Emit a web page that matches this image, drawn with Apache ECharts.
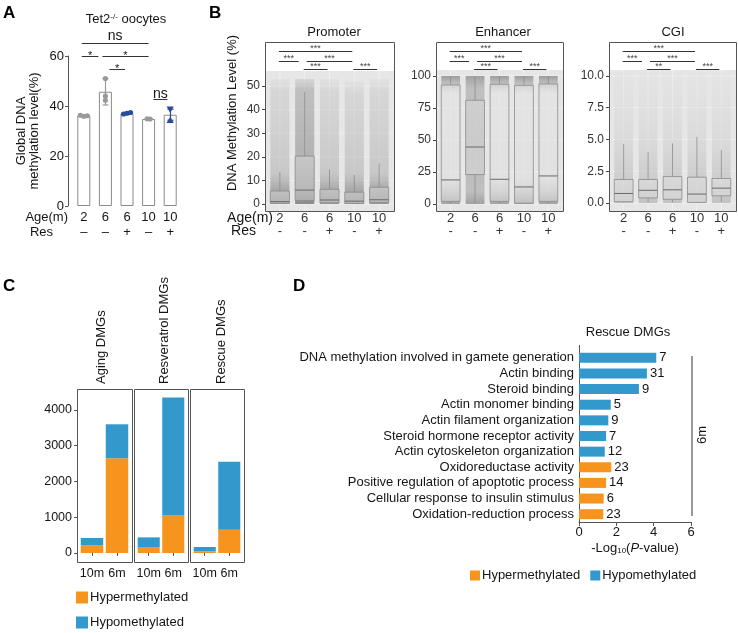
<!DOCTYPE html>
<html><head><meta charset="utf-8">
<script src="https://cdn.jsdelivr.net/npm/echarts@6.0.0/dist/echarts.min.js"></script>
<style>html,body{margin:0;padding:0;background:#fff;}#chart{width:738px;height:633px;}</style>
</head><body><div id="chart"></div>
<script>
// ================= DATA =================
// Panel A
const aAges = ['2', '6', '6', '10', '10'];
const aRes = ['–', '–', '+', '–', '+'];
const aMeans = [36.2, 45.7, 37.1, 34.8, 36.5];
const aSD = [0.3, 5.3, 0.4, 0.2, 2.2];
const aPoints = [[36.3, 35.9, 36.1], [51.0, 44.0, 42.3], [36.8, 37.1, 37.4], [34.9, 34.8], [38.6, 34.4]];
const aSig = [[0, 3, 'ns'], [0, 1, '*'], [1, 3, '*'], [1, 2, '*']];

// Panel B
const bAges = ['2', '6', '6', '10', '10'];
const bRes = ['-', '-', '+', '-', '+'];
const promoterBox = [[0, 0.3, 1.0, 5.5, 13.7], [0, 1.5, 5.9, 20.3, 47.6], [0, 0.5, 1.7, 6.2, 14.7], [0, 0.2, 1.2, 5.0, 12.3], [0, 0.6, 1.8, 7.1, 17.2]];
const enhancerBox = [[0, 2.0, 18.8, 93.0, 100], [0, 23.0, 44.5, 81.0, 100], [0, 2.0, 19.3, 93.5, 100], [0, 0.5, 13.3, 92.7, 100], [0, 2.0, 21.9, 93.8, 100]];
const cgiBox = [[0.03, 0.1, 0.75, 1.85, 4.66], [0.05, 0.4, 1.0, 1.85, 4.0], [0.05, 0.29, 1.04, 2.08, 4.7], [0.03, 0.05, 0.7, 2.03, 5.2], [0.1, 0.57, 1.17, 1.93, 4.17]];
const promoterCloud = [53, 53, 53, 52, 53];
const enhancerCloud = [100, 100, 100, 100, 100];
const cgiCloud = [10.3, 10.3, 10.3, 10.3, 10.3];
const promoterTicks = [0, 10, 20, 30, 40, 50];
const enhancerTicks = [0, 25, 50, 75, 100];
const cgiTicks = [0, 2.5, 5, 7.5, 10];
const promoterSig = [[0, 3, '***', 0], [0, 1, '***', 1], [1, 3, '***', 1], [1, 2, '***', 2], [3, 4, '***', 2]];
const enhancerSig = [[0, 3, '***', 0], [0, 1, '***', 1], [1, 3, '***', 1], [1, 2, '***', 2], [3, 4, '***', 2]];
const cgiSig = [[0, 3, '***', 0], [0, 1, '***', 1], [1, 3, '***', 1], [1, 2, '**', 2], [3, 4, '***', 2]];

// Panel C
const cFacets = ['Aging DMGs', 'Resveratrol DMGs', 'Rescue DMGs'];
const cGroups = ['10m', '6m'];
const cHyper = [[214, 2650], [167, 1050], [47, 651]];
const cHypo = [[205, 950], [270, 3302], [120, 1898]];
const cTicks = [0, 1000, 2000, 3000, 4000];

// Panel D
const dTerms = ['DNA methylation involved in gamete generation', 'Actin binding', 'Steroid binding', 'Actin monomer binding',
  'Actin filament organization', 'Steroid hormone receptor activity', 'Actin cytoskeleton organization',
  'Oxidoreductase activity', 'Positive regulation of apoptotic process', 'Cellular response to insulin stimulus', 'Oxidation-reduction process'];
const dLogP = [4.14, 3.64, 3.21, 1.70, 1.57, 1.45, 1.38, 1.73, 1.45, 1.32, 1.30];
const dCounts = [7, 31, 9, 5, 9, 7, 12, 23, 14, 6, 23];
const dClass = ['Hypomethylated', 'Hypomethylated', 'Hypomethylated', 'Hypomethylated', 'Hypomethylated', 'Hypomethylated', 'Hypomethylated',
  'Hypermethylated', 'Hypermethylated', 'Hypermethylated', 'Hypermethylated'];

// ================= STYLE / LAYOUT =================
const FONT = '"Liberation Sans", Arial, Helvetica, sans-serif';
const INK = '#151515';
const ORANGE = '#F7941D';
const BLUE = '#3399CC';
const NAVY = '#2B4C9B';
const GREY = '#9a9a9a';
const aJitter = [3.5, 0, 3.5, 3, 0];
const aMarker = ['circle', 'circle', 'circle', 'circle', 'triangle'];

function grad(stops) {
  return { type: 'linear', x: 0, y: 0, x2: 0, y2: 1, colorStops: stops.map(s => ({ offset: s[0], color: s[1] })) };
}
const cloudStyle = {
  promoter: (i) => i === 1
    ? grad([[0, 'rgba(175,175,175,0.3)'], [0.08, 'rgba(160,160,160,0.55)'], [0.6, 'rgba(152,152,152,0.65)'], [0.9, 'rgba(140,140,140,0.85)'], [1, 'rgba(135,135,135,0.95)']])
    : grad([[0, 'rgba(195,195,195,0.15)'], [0.1, 'rgba(185,185,185,0.35)'], [0.75, 'rgba(170,170,170,0.5)'], [0.88, 'rgba(150,150,150,0.75)'], [1, 'rgba(140,140,140,0.9)']]),
  enhancer: (i) => i === 1
    ? grad([[0, 'rgba(150,150,150,0.85)'], [0.1, 'rgba(165,165,165,0.6)'], [0.5, 'rgba(160,160,160,0.65)'], [0.9, 'rgba(165,165,165,0.6)'], [1, 'rgba(150,150,150,0.85)']])
    : grad([[0, 'rgba(145,145,145,0.85)'], [0.06, 'rgba(165,165,165,0.6)'], [0.14, 'rgba(210,210,210,0.35)'], [0.8, 'rgba(200,200,200,0.4)'], [0.94, 'rgba(165,165,165,0.65)'], [1, 'rgba(150,150,150,0.85)']]),
  cgi: (i) => grad([[0, 'rgba(215,215,215,0.15)'], [0.5, 'rgba(198,198,198,0.35)'], [0.85, 'rgba(180,180,180,0.55)'], [1, 'rgba(175,175,175,0.65)']])
};

const B_TOP = 42, B_BOTTOM = 211;
const bPanels = [
  { key: 'promoter', title: 'Promoter', box: promoterBox, cloud: promoterCloud, ticks: promoterTicks, sig: promoterSig, frameL: 265, frameW: 129, top: 71, min: -2.97, max: 56.4, digits: 0, titleX: 334 },
  { key: 'enhancer', title: 'Enhancer', box: enhancerBox, cloud: enhancerCloud, ticks: enhancerTicks, sig: enhancerSig, frameL: 436, frameW: 127, top: 70, min: -5.5, max: 104.7, digits: 0, titleX: 503 },
  { key: 'cgi', title: 'CGI', box: cgiBox, cloud: cgiCloud, ticks: cgiTicks, sig: cgiSig, frameL: 609, frameW: 127, top: 70, min: -0.63, max: 10.47, digits: 1, titleX: 673 }
];
const sigLevels = [51, 61, 69];
const cFrames = [[77, 55], [134, 54], [190, 54]];
const C_TOP = 389, C_BOTTOM = 562;
const cTitleX = [101, 164, 221];

// ================= OPTION =================
const grid = [], xAxis = [], yAxis = [], series = [];
const base = { outerBoundsMode: 'none', containLabel: false };

// ---- A ----
grid.push(Object.assign({ left: 73, top: 56, width: 108, height: 150 }, base));
xAxis.push({ gridIndex: 0, type: 'category', data: aAges.map((a, i) => a + '\n' + aRes[i]),
  axisLine: { show: false }, axisTick: { show: false },
  axisLabel: { interval: 0, fontSize: 13, lineHeight: 15, margin: 3.5, color: INK, fontFamily: FONT } });
yAxis.push({ gridIndex: 0, type: 'value', min: 0, max: 60, interval: 20, offset: 5,
  axisLine: { show: true, lineStyle: { color: '#555', width: 1 } },
  axisTick: { show: true, length: 3, lineStyle: { color: '#555' } }, splitLine: { show: false },
  axisLabel: { fontSize: 13, color: INK, margin: 4, fontFamily: FONT } });
series.push({ type: 'bar', xAxisIndex: 0, yAxisIndex: 0, data: aMeans, barWidth: 13, silent: true, z: 2,
  itemStyle: { color: '#fff', borderColor: '#8a8a8a', borderWidth: 1 } });
series.push({ type: 'custom', xAxisIndex: 0, yAxisIndex: 0, silent: true, z: 3,
  data: aMeans.map((m, i) => [i, m - aSD[i], m + aSD[i]]), encode: { x: 0, y: [1, 2] },
  renderItem: (p, api) => {
    const i = api.value(0);
    const lo = api.coord([i, api.value(1)]), hi = api.coord([i, api.value(2)]);
    const col = aRes[i] === '+' ? NAVY : GREY;
    const x = Math.round(lo[0]) + 0.5;
    return { type: 'group', children: [
      { type: 'line', shape: { x1: x, y1: lo[1], x2: x, y2: hi[1] }, style: { stroke: col, lineWidth: 1.2 } },
      { type: 'line', shape: { x1: x - 3, y1: lo[1], x2: x + 3, y2: lo[1] }, style: { stroke: col, lineWidth: 1.2 } },
      { type: 'line', shape: { x1: x - 3, y1: hi[1], x2: x + 3, y2: hi[1] }, style: { stroke: col, lineWidth: 1.2 } }
    ] };
  } });
const aPointData = [];
aPoints.forEach((pts, i) => pts.forEach((v, k) => aPointData.push([i, v, k - (pts.length - 1) / 2])));
series.push({ type: 'custom', xAxisIndex: 0, yAxisIndex: 0, silent: true, z: 4,
  data: aPointData, encode: { x: 0, y: 1 },
  renderItem: (p, api) => {
    const i = api.value(0), v = api.value(1), k = api.value(2);
    const c = api.coord([i, v]);
    const x = c[0] + k * aJitter[i], y = c[1];
    const fill = aRes[i] === '+' ? NAVY : GREY;
    if (aMarker[i] === 'triangle') {
      const s = 3.6, up = v < aMeans[i];
      const pts = up ? [[x, y - s], [x - s, y + s * 0.8], [x + s, y + s * 0.8]] : [[x, y + s], [x - s, y - s * 0.8], [x + s, y - s * 0.8]];
      return { type: 'polygon', shape: { points: pts }, style: { fill } };
    }
    return { type: 'circle', shape: { cx: x, cy: y, r: 2.6 }, style: { fill } };
  } });

// ---- B ----
bPanels.forEach((bp, p) => {
  const band = bp.frameW / 5.2;
  const gi = 1 + p;
  grid.push(Object.assign({ left: bp.frameL + 0.1 * band, top: bp.top, width: 5 * band, height: B_BOTTOM - bp.top }, base));
  xAxis.push({ gridIndex: gi, type: 'category', data: bAges.map((a, i) => a + '\n' + bRes[i]),
    axisLine: { show: false }, axisTick: { show: false },
    axisLabel: { interval: 0, fontSize: 13, lineHeight: 13, margin: 1, color: '#333', fontFamily: FONT } });
  yAxis.push({ gridIndex: gi, type: 'value', min: bp.min, max: bp.max, offset: 0.1 * band,
    axisLine: { show: false }, splitLine: { show: false },
    axisTick: { show: true, length: 3, customValues: bp.ticks, lineStyle: { color: '#444' } },
    axisLabel: { customValues: bp.ticks, fontSize: 12, color: '#333', margin: 5, fontFamily: FONT,
      formatter: v => Number(v).toFixed(bp.digits) } });
  series.push({ type: 'bar', xAxisIndex: gi, yAxisIndex: gi, barWidth: band * 0.77, silent: true, z: 2,
    data: bp.cloud.map((v, i) => ({ value: v, itemStyle: { color: cloudStyle[bp.key](i) } })) });
  series.push({ type: 'custom', xAxisIndex: gi, yAxisIndex: gi, silent: true, z: 3,
    data: bp.box.map((b, i) => [i].concat(b)), encode: { x: 0, y: [1, 2, 3, 4, 5] },
    renderItem: (prm, api) => {
      const i = api.value(0);
      const lo = api.coord([i, api.value(1)]), q1 = api.coord([i, api.value(2)]), md = api.coord([i, api.value(3)]),
        q3 = api.coord([i, api.value(4)]), hi = api.coord([i, api.value(5)]);
      const w = api.size([1, 0])[0] * 0.77;
      const x = lo[0];
      const st = { stroke: '#8c8c8c', lineWidth: 0.8 };
      return { type: 'group', children: [
        { type: 'line', shape: { x1: x, y1: hi[1], x2: x, y2: q3[1] }, style: st },
        { type: 'line', shape: { x1: x, y1: q1[1], x2: x, y2: lo[1] }, style: st },
        { type: 'rect', shape: { x: x - w / 2, y: q3[1], width: w, height: q1[1] - q3[1] }, style: { fill: 'rgba(238,238,238,0.35)', stroke: '#8c8c8c', lineWidth: 0.8 } },
        { type: 'line', shape: { x1: x - w / 2, y1: md[1], x2: x + w / 2, y2: md[1] }, style: { stroke: '#6a6a6a', lineWidth: 1 } }
      ] };
    } });
});

// ---- C ----
cFrames.forEach((fr, f) => {
  const band = fr[1] / 2.2;
  const gi = 4 + f;
  grid.push(Object.assign({ left: fr[0] + 0.1 * band, top: C_TOP, width: 2 * band, height: C_BOTTOM - C_TOP }, base));
  xAxis.push({ gridIndex: gi, type: 'category', data: cGroups,
    axisLine: { show: false }, axisTick: { show: true, alignWithLabel: true, length: 3, lineStyle: { color: '#555' } },
    axisLabel: { interval: 0, fontSize: 12.5, margin: 5, color: INK, fontFamily: FONT } });
  yAxis.push({ gridIndex: gi, type: 'value', min: -252, max: 4587, offset: 0.1 * band,
    axisLine: { show: false }, splitLine: { show: false },
    axisTick: { show: f === 0, length: 3, customValues: cTicks, lineStyle: { color: '#555' } },
    axisLabel: { show: f === 0, customValues: cTicks, fontSize: 12.5, color: INK, margin: 5, fontFamily: FONT,
      formatter: v => String(Math.round(v)) } });
  series.push({ type: 'bar', name: 'Hypermethylated', xAxisIndex: gi, yAxisIndex: gi, stack: 'c' + f, barWidth: '90%',
    data: cHyper[f], itemStyle: { color: ORANGE }, silent: true });
  series.push({ type: 'bar', name: 'Hypomethylated', xAxisIndex: gi, yAxisIndex: gi, stack: 'c' + f, barWidth: '90%',
    data: cHypo[f], itemStyle: { color: BLUE }, silent: true });
});

// ---- D ----
grid.push(Object.assign({ left: 579, top: 350, width: 112, height: 172 }, base));
xAxis.push({ gridIndex: 7, type: 'value', min: 0, max: 6, interval: 2,
  axisLine: { show: true, lineStyle: { color: '#555' } }, axisTick: { show: true, length: 4, lineStyle: { color: '#555' } },
  splitLine: { show: false }, axisLabel: { fontSize: 13, color: INK, margin: 4, fontFamily: FONT },
  name: '-Log{s|10}({i|P}-value)', nameLocation: 'middle', nameGap: 19,
  nameTextStyle: { fontSize: 13, color: INK, fontFamily: FONT,
    rich: { s: { fontSize: 8, verticalAlign: 'bottom', fontFamily: FONT, color: INK, padding: [6, 0, 0, 0] }, i: { fontSize: 13, fontStyle: 'italic', fontFamily: FONT, color: INK } } } });
yAxis.push({ gridIndex: 7, type: 'category', inverse: true, data: dTerms,
  axisLine: { show: true, lineStyle: { color: '#555' } }, axisTick: { show: false },
  axisLabel: { interval: 0, fontSize: 13, color: INK, margin: 5, fontFamily: FONT } });
['Hypomethylated', 'Hypermethylated'].forEach(cls => {
  series.push({ type: 'bar', name: cls, xAxisIndex: 7, yAxisIndex: 7, barWidth: 10, barGap: '-100%', silent: true,
    data: dLogP.map((v, i) => dClass[i] === cls ? v : '-'),
    itemStyle: { color: cls === 'Hypomethylated' ? BLUE : ORANGE },
    label: { show: true, position: 'right', distance: 3, fontSize: 13, color: INK, fontFamily: FONT,
      formatter: prm => String(dCounts[prm.dataIndex]) } });
});

const legendText = { fontSize: 13, color: INK, fontFamily: FONT, padding: [0, 0, 0, -3] };
const option = {
  animation: false,
  backgroundColor: '#fff',
  grid, xAxis, yAxis, series,
  legend: [
    { data: ['Hypermethylated', 'Hypomethylated'], orient: 'vertical', left: 76, top: 591, padding: 0, itemWidth: 12, itemHeight: 12,
      itemGap: 12, icon: 'rect', selectedMode: false, textStyle: legendText },
    { data: ['Hypermethylated', 'Hypomethylated'], orient: 'horizontal', left: 470, top: 569, padding: 0, itemWidth: 10, itemHeight: 10,
      itemGap: 10, icon: 'rect', selectedMode: false, textStyle: legendText }
  ]
};

const chart = echarts.init(document.getElementById('chart'), null, { renderer: 'canvas' });
chart.setOption(option);

// ================= ANNOTATIONS (positioned through the axes) =================
const G = [];
function T(x, y, text, o) {
  o = o || {};
  G.push({ type: 'text', x, y, z: 30, rotation: o.rot || 0,
    style: Object.assign({ text, fill: o.color || INK, fontSize: o.size || 13, fontFamily: FONT, fontWeight: o.weight || 'normal',
      align: o.align || 'center', verticalAlign: o.va || 'middle' }, o.extra || {}) });
}
function L(x1, y1, x2, y2, o) {
  o = o || {};
  G.push({ type: 'line', z: o.z == null ? 30 : o.z, shape: { x1, y1, x2, y2 }, style: { stroke: o.color || '#333', lineWidth: o.w || 1 } });
}
function R(x, y, w, h, o) {
  G.push({ type: 'rect', z: o.z, shape: { x, y, width: w, height: h }, style: { fill: o.fill || 'transparent', stroke: o.stroke || null, lineWidth: o.w || 1 } });
}
const px = (gi, x, y) => chart.convertToPixel({ gridIndex: gi }, [x, y]);

// Panel letters
T(3, 13, 'A', { size: 17, weight: 'bold', align: 'left', color: '#000' });
T(209, 13, 'B', { size: 17, weight: 'bold', align: 'left', color: '#000' });
T(3, 286, 'C', { size: 17, weight: 'bold', align: 'left', color: '#000' });
T(293, 286, 'D', { size: 17, weight: 'bold', align: 'left', color: '#000' });

// ---- A annotations ----
T(126, 19, 'Tet2{sup|-/-} oocytes', { size: 13, extra: { rich: { sup: { fontSize: 8, verticalAlign: 'top', fontFamily: FONT, fill: INK } } } });
T(28, 131, 'Global DNA\nmethylation level(%)', { size: 13, rot: Math.PI / 2, extra: { lineHeight: 13 } });
T(68, 217, 'Age(m)', { size: 13, align: 'right' });
T(53, 232, 'Res', { size: 13, align: 'right' });
const cA = i => px(0, i, 0)[0];
const aSigY = [43, 56, 56, 69];
const aSigDx = [[-2, 0], [-2, -7], [-3, 0], [4, -2]];
aSig.forEach((s, k) => {
  const x1 = cA(s[0]) + aSigDx[k][0], x2 = cA(s[1]) + aSigDx[k][1], y = aSigY[k] + 0.5;
  L(x1, y, x2, y, { color: '#333' });
  if (s[2] === 'ns') T((x1 + x2) / 2, y - 7, 'ns', { size: 14 });
  else T((x1 + x2) / 2, y - 0.5, '*', { size: 11 });
});
{
  const xm = (cA(3) + cA(4)) / 2 + 1;
  T(xm, 94, 'ns', { size: 14 });
  L(xm - 7, 99.5, xm + 7, 99.5, { color: '#333' });
}

// ---- B annotations ----
T(232, 113, 'DNA Methylation Level (%)', { size: 13, rot: Math.PI / 2 });
T(273, 218, 'Age(m)', { size: 14, align: 'right' });
T(256, 231, 'Res', { size: 14, align: 'right' });
bPanels.forEach((bp, p) => {
  const gi = 1 + p;
  R(bp.frameL, bp.top, bp.frameW, B_BOTTOM - bp.top, { z: 0, fill: '#e6e6e6' });
  bp.ticks.forEach(t => {
    const y = px(gi, 0, t)[1];
    L(bp.frameL, y, bp.frameL + bp.frameW, y, { z: 1, color: '#f3f3f3', w: 0.8 });
  });
  bp.box.forEach((b, i) => {
    const x = px(gi, i, 0)[0];
    L(x, bp.top, x, B_BOTTOM, { z: 1, color: '#f3f3f3', w: 0.8 });
  });
  R(bp.frameL + 0.5, B_TOP + 0.5, bp.frameW, B_BOTTOM - B_TOP, { z: 40, stroke: '#555', w: 1 });
  T(bp.titleX, 32, bp.title, { size: 13 });
  const c = i => px(gi, i, 0)[0];
  bp.sig.forEach(s => {
    const endsAtStart = bp.sig.some(o => o !== s && o[3] === s[3] && o[1] === s[0]);
    const startsAtEnd = bp.sig.some(o => o !== s && o[3] === s[3] && o[0] === s[1]);
    const x1 = c(s[0]) - 1 + (endsAtStart ? 3 : 0);
    const x2 = c(s[1]) - 2 - (startsAtEnd ? 4 : 0);
    const y = sigLevels[s[3]] + 0.5;
    L(x1, y, x2, y, { color: '#333' });
    T((x1 + x2) / 2, y - 2.5, s[2], { size: 9, color: '#444' });
  });
});

// ---- C annotations ----
cFrames.forEach((fr, f) => {
  R(fr[0] + 0.5, C_TOP + 0.5, fr[1], C_BOTTOM - C_TOP, { z: 40, stroke: '#555', w: 1 });
  T(cTitleX[f], 384, cFacets[f], { size: 13, rot: Math.PI / 2, align: 'left' });
});

// ---- D annotations ----
T(628, 332, 'Rescue DMGs', { size: 13 });
L(579.5, 345, 579.5, 351, { color: '#555' });
L(692, 356, 692, 516, { color: '#777', w: 1.5 });
T(702, 435, '6m', { size: 13, rot: Math.PI / 2 });

chart.setOption({ graphic: { elements: G } });
</script>
</body></html>
